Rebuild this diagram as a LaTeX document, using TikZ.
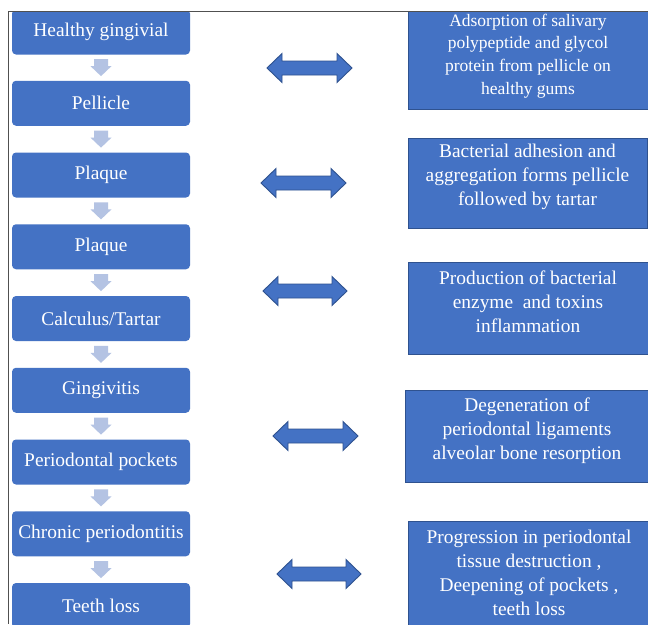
\documentclass[tikz,border=0pt]{standalone}
\usepackage{fontspec}
\setmainfont{Liberation Serif}
\usetikzlibrary{calc}
\definecolor{boxblue}{HTML}{4472C4}
\definecolor{boxedge}{HTML}{2F528F}
\definecolor{paleblue}{HTML}{B4C3E3}
\definecolor{framegray}{HTML}{505050}
\newcommand{\smalldn}[2]{%
  \coordinate (m#1#2) at ($(#1.south)!0.5!(#2.north)$);
  \fill[downarr] (m#1#2) ++(-7,-8.5) -- ++(14,0) -- ++(0,7) -- ++(3.5,0) -- ++(-10.5,10) -- ++(-10.5,-10) -- ++(3.5,0) -- cycle;}
\newcommand{\dblarr}[3]{%
  \filldraw[bigarr] (#1,#3) -- (#1+15,#3-14.5) -- (#1+15,#3-7) -- (#2-15,#3-7) -- (#2-15,#3-14.5) -- (#2,#3) -- (#2-15,#3+14.5) -- (#2-15,#3+7) -- (#1+15,#3+7) -- (#1+15,#3+14.5) -- cycle;}
\begin{document}
\begin{tikzpicture}[x=1pt,y=-1pt,
  lbox/.style={fill=boxblue, rounded corners=4pt, minimum width=178pt, minimum height=45pt, inner sep=0pt, text=white, font=\fontsize{19.4}{23.5}\selectfont},
  rbox/.style={fill=boxblue, draw=boxedge, line width=0.9pt, inner sep=0pt},
  rtext/.style={text=white, align=center, inner sep=0pt, font=\fontsize{19.4}{24}\selectfont},
  rtextsmall/.style={rtext, font=\fontsize{17.5}{22.7}\selectfont},
  downarr/.style={fill=paleblue},
  bigarr/.style={fill=boxblue, draw=boxedge, line width=0.9pt, line join=miter}]
\useasboundingbox (0,0) rectangle (648,624);
\fill[white] (0,0) rectangle (648,624);
\begin{scope}
\clip (8.5,11) rectangle (648,624);
% left chain
\node[lbox] (l1) at (101,32) {Healthy gingivial};
\node[lbox] (l2) at (101,103.25) {Pellicle};
\node[lbox] (l3) at (101,175) {Plaque};
\node[lbox] (l4) at (101,246.75) {Plaque};
\node[lbox] (l5) at (101,318.5) {Calculus/Tartar};
\node[lbox] (l6) at (101,390.25) {Gingivitis};
\node[lbox] (l7) at (101,462) {Periodontal pockets};
\node[lbox] (l8) at (101,533.75) {Chronic periodontitis};
\node[lbox] (l9) at (101,605.5) {Teeth loss};
\smalldn{l1}{l2}
\smalldn{l2}{l3}
\smalldn{l3}{l4}
\smalldn{l4}{l5}
\smalldn{l5}{l6}
\smalldn{l6}{l7}
\smalldn{l7}{l8}
\smalldn{l8}{l9}
% right boxes
\node[rbox, minimum width=242pt, minimum height=98pt] (r1) at (529,60) {};
\node[rbox, minimum width=239pt, minimum height=90pt] (r2) at (527.5,183) {};
\node[rbox, minimum width=242pt, minimum height=92pt] (r3) at (529,308) {};
\node[rbox, minimum width=245pt, minimum height=92pt] (r4) at (527.5,436) {};
\node[rbox, minimum width=242pt, minimum height=109pt] (r5) at (529,575.5) {};
\node[rtextsmall] (t1) at (528,56) {Adsorption of salivary\\polypeptide and glycol\\protein from pellicle on\\healthy gums};
\node[rtext] (t2) at (527.5,176.5) {Bacterial adhesion and\\aggregation forms pellicle\\followed by tartar};
\node[rtext] (t3) at (528,302) {Production of bacterial\\enzyme\ \ and toxins\\inflammation};
\node[rtext] (t4) at (527,430.5) {Degeneration of\\periodontal ligaments\\alveolar bone resorption};
\node[rtext] (t5) at (529,573) {Progression in periodontal\\tissue destruction ,\\Deepening of pockets ,\\teeth loss};
% double arrows
\dblarr{267}{352}{68}
\dblarr{261}{346}{183}
\dblarr{263}{347}{291}
\dblarr{273}{358}{436}
\dblarr{277}{361}{574}
\end{scope}
\draw[framegray, line width=1pt] (648,11) -- (8.5,11) -- (8.5,624);
\end{tikzpicture}
\end{document}
